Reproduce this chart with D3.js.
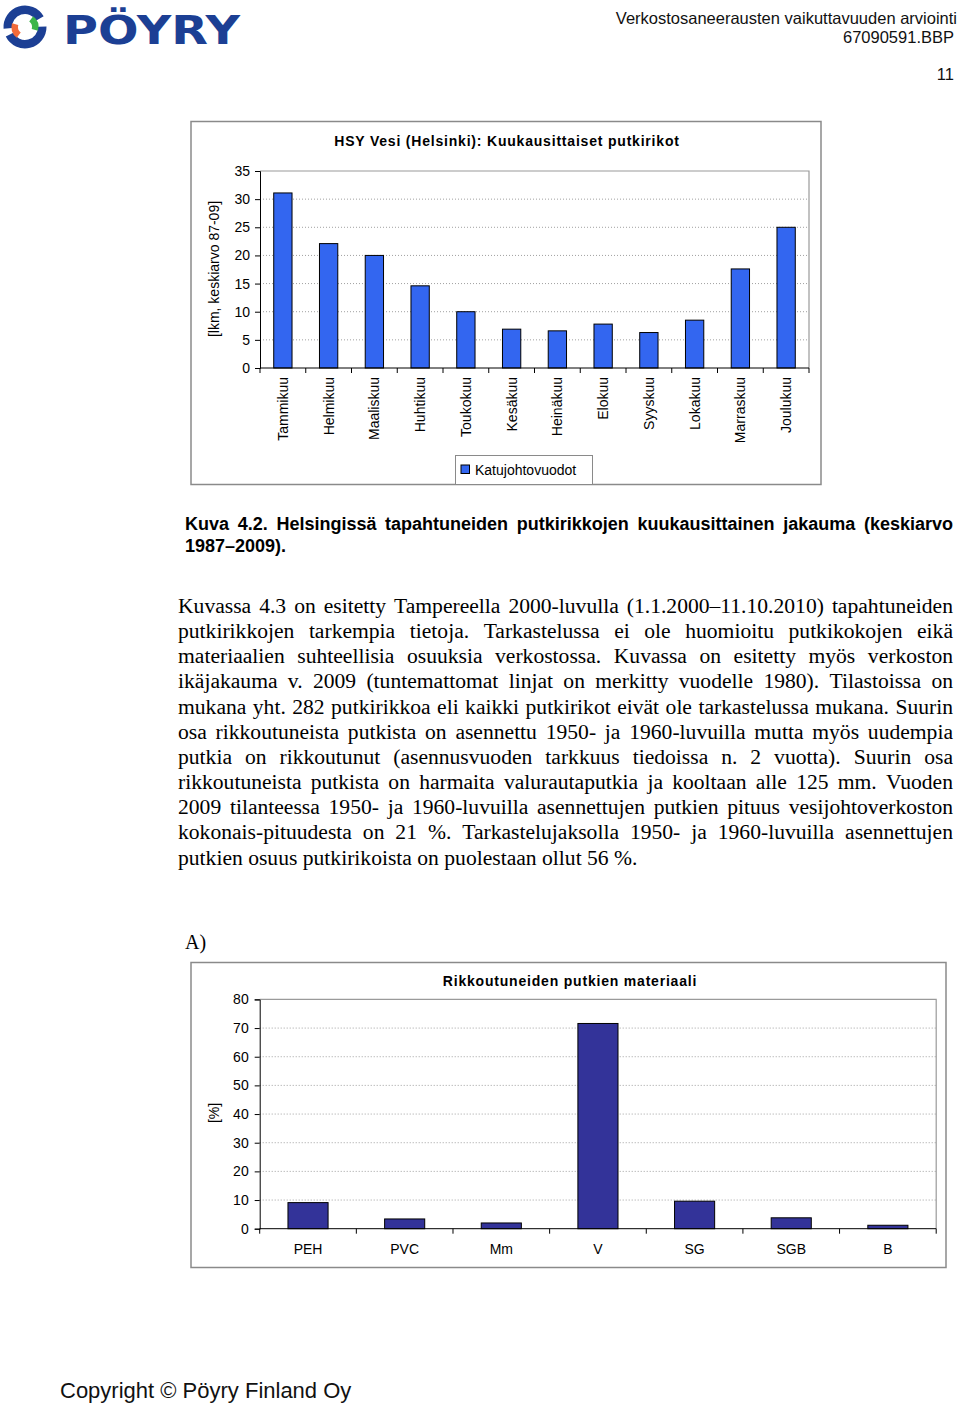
<!DOCTYPE html>
<html>
<head>
<meta charset="utf-8">
<script src="https://cdn.jsdelivr.net/npm/d3@7"></script>
<style>
  html, body { margin: 0; padding: 0; background: #fff; }
  svg { display: block; }
</style>
</head>
<body>
<svg id="page" width="960" height="1405"></svg>
<script>
// ---------------- DATA ----------------
const months = ["Tammikuu","Helmikuu","Maaliskuu","Huhtikuu","Toukokuu","Kesäkuu","Heinäkuu","Elokuu","Syyskuu","Lokakuu","Marraskuu","Joulukuu"];
const monthlyBreaks = [31.1, 22.1, 20.0, 14.6, 10.0, 6.9, 6.6, 7.8, 6.3, 8.5, 17.6, 25.0];
const yTicks1 = [0, 5, 10, 15, 20, 25, 30, 35];

const materials = ["PEH","PVC","Mm","V","SG","SGB","B"];
const materialShares = [9.1, 3.4, 2.0, 71.6, 9.6, 3.8, 1.2];
const yTicks2 = [0, 10, 20, 30, 40, 50, 60, 70, 80];

const headerLines = ["Verkostosaneerausten vaikuttavuuden arviointi", "67090591.BBP"];
const pageNumber = "11";
const chart1Title = "HSY Vesi (Helsinki): Kuukausittaiset putkirikot";
const chart1YTitle = "[lkm, keskiarvo 87-09]";
const chart1Legend = "Katujohtovuodot";
const captionLines = ["Kuva 4.2. Helsingissä tapahtuneiden putkirikkojen kuukausittainen jakauma (keskiarvo", "1987–2009)."];
const paragraphLines = [
  "Kuvassa 4.3 on esitetty Tampereella 2000-luvulla (1.1.2000–11.10.2010) tapahtuneiden",
  "putkirikkojen tarkempia tietoja. Tarkastelussa ei ole huomioitu putkikokojen eikä",
  "materiaalien suhteellisia osuuksia verkostossa. Kuvassa on esitetty myös verkoston",
  "ikäjakauma v. 2009 (tuntemattomat linjat on merkitty vuodelle 1980). Tilastoissa on",
  "mukana yht. 282 putkirikkoa eli kaikki putkirikot eivät ole tarkastelussa mukana. Suurin",
  "osa rikkoutuneista putkista on asennettu 1950- ja 1960-luvuilla mutta myös uudempia",
  "putkia on rikkoutunut (asennusvuoden tarkkuus tiedoissa n. 2 vuotta). Suurin osa",
  "rikkoutuneista putkista on harmaita valurautaputkia ja kooltaan alle 125 mm. Vuoden",
  "2009 tilanteessa 1950- ja 1960-luvuilla asennettujen putkien pituus vesijohtoverkoston",
  "kokonais-pituudesta on 21 %. Tarkastelujaksolla 1950- ja 1960-luvuilla asennettujen",
  "putkien osuus putkirikoista on puolestaan ollut 56 %."
];
const panelLabel = "A)";
const chart2Title = "Rikkoutuneiden putkien materiaali";
const chart2YTitle = "[%]";
const footerText = "Copyright © Pöyry Finland Oy";

// ---------------- HELPERS ----------------
const svg = d3.select("#page");
const SANS = "'Liberation Sans', Arial, Helvetica, sans-serif";
const SERIF = "'Liberation Serif', 'Times New Roman', serif";

function justifyLine(g, text, x0, x1, y, font, size, weight, justify) {
  const words = text.split(" ");
  const t = g.append("text").attr("y", y)
    .attr("font-family", font).attr("font-size", size).attr("font-weight", weight).attr("fill", "#000");
  if (!justify) { t.attr("x", x0).text(text); return; }
  const widths = words.map(w => {
    const m = g.append("text").attr("font-family", font).attr("font-size", size).attr("font-weight", weight).text(w);
    const wd = m.node().getComputedTextLength(); m.remove(); return wd;
  });
  const total = d3.sum(widths);
  let gap = (x1 - x0 - total) / (words.length - 1);
  let scale = 1;
  if (gap < size * 0.2) { gap = size * 0.2; scale = (x1 - x0 - gap * (words.length - 1)) / total; }
  let x = x0;
  words.forEach((w, i) => {
    const ts = t.append("tspan").attr("x", x).text(w);
    if (scale < 1) ts.attr("textLength", widths[i] * scale).attr("lengthAdjust", "spacingAndGlyphs");
    x += widths[i] * scale + gap;
  });
}

// ---------------- HEADER ----------------
const logo = svg.append("g");
const lc = [25, 27];
const arc = d3.arc();
logo.append("path").attr("transform", `translate(${lc})`)
  .attr("d", arc({innerRadius: 13, outerRadius: 21.5, startAngle: -1.65, endAngle: 1.05})).attr("fill", "#1c3f94");
logo.append("path").attr("transform", `translate(${lc})`)
  .attr("d", arc({innerRadius: 13, outerRadius: 21.5, startAngle: 1.55, endAngle: 4.25})).attr("fill", "#1c3f94");
logo.append("path").attr("transform", `translate(${lc})`)
  .attr("d", arc({innerRadius: 7, outerRadius: 13.5, startAngle: 3.8, endAngle: 5.0})).attr("fill", "#f26b3a");
logo.append("path").attr("transform", `translate(${lc})`)
  .attr("d", arc({innerRadius: 7, outerRadius: 13.5, startAngle: 0.65, endAngle: 1.85})).attr("fill", "#3cb54a");
logo.append("text").attr("x", 63).attr("y", 43.5)
  .attr("font-family", "'DejaVu Sans', Arial, sans-serif").attr("font-weight", "bold").attr("font-size", 39)
  .attr("fill", "#1c3f94").attr("textLength", 177).attr("lengthAdjust", "spacingAndGlyphs").text("PÖYRY");

svg.append("text").attr("x", 957).attr("y", 24).attr("text-anchor", "end")
  .attr("font-family", SANS).attr("font-size", 16.5).attr("fill", "#111").text(headerLines[0]);
svg.append("text").attr("x", 954).attr("y", 43).attr("text-anchor", "end")
  .attr("font-family", SANS).attr("font-size", 16.5).attr("fill", "#111").text(headerLines[1]);
svg.append("text").attr("x", 954).attr("y", 80).attr("text-anchor", "end")
  .attr("font-family", SANS).attr("font-size", 16.5).attr("fill", "#111").text(pageNumber);

// ---------------- CHART 1 ----------------
const c1 = svg.append("g");
c1.append("rect").attr("x", 191).attr("y", 121.5).attr("width", 630).attr("height", 363)
  .attr("fill", "#fff").attr("stroke", "#8a8a8a").attr("stroke-width", 1.5);

const x1 = d3.scaleBand().domain(months).range([260, 809]).paddingInner(0.6).paddingOuter(0.3);
const y1 = d3.scaleLinear().domain([0, 35]).range([368, 171]);

c1.selectAll("line.grid").data(yTicks1.filter(v => v > 0 && v < 35)).join("line")
  .attr("x1", 260).attr("x2", 809).attr("y1", d => y1(d)).attr("y2", d => y1(d))
  .attr("stroke", "#a0a0a0").attr("stroke-width", 1).attr("stroke-dasharray", "1,2");
c1.append("path").attr("d", `M260,${y1(35)}H809V${y1(0)}`).attr("fill", "none").attr("stroke", "#9a9a9a").attr("stroke-width", 1.2);

c1.selectAll("rect.bar").data(months).join("rect")
  .attr("x", d => x1(d)).attr("width", x1.bandwidth())
  .attr("y", (d, i) => y1(monthlyBreaks[i])).attr("height", (d, i) => y1(0) - y1(monthlyBreaks[i]))
  .attr("fill", "#3366f0").attr("stroke", "#000").attr("stroke-width", 1);

const ya1 = c1.append("g").attr("transform", "translate(260,0)")
  .call(d3.axisLeft(y1).tickValues(yTicks1).tickSize(5).tickPadding(5));
ya1.select(".domain").attr("stroke", "#000");
ya1.selectAll("text").attr("font-family", SANS).attr("font-size", 14).attr("fill", "#000");

const xa1 = c1.append("g").attr("transform", `translate(0,${y1(0)})`)
  .call(d3.axisBottom(x1).tickSize(0).tickPadding(8));
xa1.select(".domain").attr("stroke", "#000").attr("d", "M260,0H809");
xa1.selectAll("text").attr("font-family", SANS).attr("font-size", 14).attr("fill", "#000")
  .attr("text-anchor", "end").attr("y", 0).attr("dy", "0.35em").attr("x", -9).attr("transform", "rotate(-90)");
xa1.selectAll("line.bnd").data(d3.range(months.length + 1)).join("line").attr("class", "bnd")
  .attr("x1", i => 260 + i * x1.step()).attr("x2", i => 260 + i * x1.step()).attr("y1", 0).attr("y2", 5)
  .attr("stroke", "#000");

c1.append("text").attr("x", 507).attr("y", 146).attr("text-anchor", "middle")
  .attr("font-family", SANS).attr("font-weight", "bold").attr("font-size", 14).attr("letter-spacing", 0.8).text(chart1Title);
c1.append("text").attr("transform", "translate(214,269) rotate(-90)").attr("dy", "0.35em").attr("text-anchor", "middle")
  .attr("font-family", SANS).attr("font-size", 14).text(chart1YTitle);

c1.append("rect").attr("x", 455.5).attr("y", 455.5).attr("width", 137).attr("height", 29)
  .attr("fill", "#fff").attr("stroke", "#8a8a8a").attr("stroke-width", 1);
c1.append("rect").attr("x", 461).attr("y", 465).attr("width", 8.5).attr("height", 8.5)
  .attr("fill", "#3366f0").attr("stroke", "#000").attr("stroke-width", 1);
c1.append("text").attr("x", 475).attr("y", 474.5).attr("font-family", SANS).attr("font-size", 14).text(chart1Legend);

// ---------------- CAPTION & PARAGRAPH ----------------
const txt = svg.append("g");
justifyLine(txt, captionLines[0], 185, 953, 529.5, SANS, 18, "bold", true);
justifyLine(txt, captionLines[1], 185, 953, 551.5, SANS, 18, "bold", false);

paragraphLines.forEach((line, i) => {
  justifyLine(txt, line, 178, 953, 613 + i * 25.15, SERIF, 21.6, "normal", i < paragraphLines.length - 1);
});

txt.append("text").attr("x", 185).attr("y", 948.5).attr("font-family", SERIF).attr("font-size", 20).text(panelLabel);

// ---------------- CHART 2 ----------------
const c2 = svg.append("g");
c2.append("rect").attr("x", 191).attr("y", 962.5).attr("width", 755).attr("height", 305)
  .attr("fill", "#fff").attr("stroke", "#8a8a8a").attr("stroke-width", 1.5);

const x2 = d3.scaleBand().domain(materials).range([259.7, 936.2]).paddingInner(0.585).paddingOuter(0.2925);
const y2 = d3.scaleLinear().domain([0, 80]).range([1228.7, 999.4]);

c2.selectAll("line.grid").data(yTicks2.filter(v => v > 0 && v < 80)).join("line")
  .attr("x1", 259.7).attr("x2", 936.2).attr("y1", d => y2(d)).attr("y2", d => y2(d))
  .attr("stroke", "#a0a0a0").attr("stroke-width", 1).attr("stroke-dasharray", "1,2");
c2.append("path").attr("d", `M259.7,${y2(80)}H936.2V${y2(0)}`).attr("fill", "none").attr("stroke", "#9a9a9a").attr("stroke-width", 1.2);

c2.selectAll("rect.bar").data(materials).join("rect")
  .attr("x", d => x2(d)).attr("width", x2.bandwidth())
  .attr("y", (d, i) => y2(materialShares[i])).attr("height", (d, i) => y2(0) - y2(materialShares[i]))
  .attr("fill", "#333399").attr("stroke", "#000").attr("stroke-width", 1);

const ya2 = c2.append("g").attr("transform", "translate(259.7,0)")
  .call(d3.axisLeft(y2).tickValues(yTicks2).tickSize(5).tickPadding(6));
ya2.select(".domain").attr("stroke", "#000");
ya2.selectAll("text").attr("font-family", SANS).attr("font-size", 14).attr("fill", "#000");

const xa2 = c2.append("g").attr("transform", `translate(0,${y2(0)})`)
  .call(d3.axisBottom(x2).tickSize(0).tickPadding(15));
xa2.select(".domain").attr("stroke", "#000").attr("d", "M259.7,0H936.2");
xa2.selectAll("text").attr("font-family", SANS).attr("font-size", 14).attr("fill", "#000");
xa2.selectAll("line.bnd").data(d3.range(materials.length + 1)).join("line").attr("class", "bnd")
  .attr("x1", i => 259.7 + i * x2.step()).attr("x2", i => 259.7 + i * x2.step()).attr("y1", 0).attr("y2", 5)
  .attr("stroke", "#000");

c2.append("text").attr("x", 570).attr("y", 986).attr("text-anchor", "middle")
  .attr("font-family", SANS).attr("font-weight", "bold").attr("font-size", 14).attr("letter-spacing", 0.8).text(chart2Title);
c2.append("text").attr("transform", "translate(214,1113) rotate(-90)").attr("dy", "0.35em").attr("text-anchor", "middle")
  .attr("font-family", SANS).attr("font-size", 14).text(chart2YTitle);

// ---------------- FOOTER ----------------
svg.append("text").attr("x", 60).attr("y", 1398).attr("font-family", SANS).attr("font-size", 22).attr("fill", "#111").text(footerText);
</script>
</body>
</html>
